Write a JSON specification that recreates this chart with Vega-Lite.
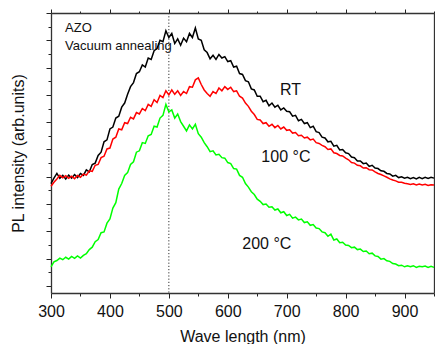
{
  "$schema": "https://vega.github.io/schema/vega-lite/v6.json",
  "autosize": "none",
  "width": 383,
  "height": 280,
  "padding": {"left": 51, "top": 13, "right": 1, "bottom": 51},
  "background": "white",
  "config": {
    "view": {"stroke": null},
    "font": "Liberation Sans",
    "axis": {
      "domainColor": "#333333",
      "domainWidth": 1.3,
      "tickColor": "#222222",
      "tickWidth": 1,
      "grid": false,
      "labelFont": "Liberation Sans",
      "labelFontSize": 16,
      "labelColor": "#111111",
      "titleFont": "Liberation Sans",
      "titleFontSize": 16,
      "titleFontWeight": "normal",
      "titleColor": "#111111"
    }
  },
  "data": {"values": [
    {"w":300,"a":3.75,"b":3.65,"c":0.70},
    {"w":305,"a":3.95,"b":3.80,"c":0.88},
    {"w":310,"a":4.12,"b":3.92,"c":0.93},
    {"w":315,"a":3.94,"b":4.05,"c":1.02},
    {"w":320,"a":4.05,"b":3.96,"c":0.96},
    {"w":325,"a":3.92,"b":4.04,"c":1.05},
    {"w":330,"a":4.06,"b":3.94,"c":0.98},
    {"w":335,"a":3.95,"b":4.02,"c":1.08},
    {"w":340,"a":4.08,"b":3.93,"c":1.01},
    {"w":345,"a":3.97,"b":4.05,"c":1.10},
    {"w":350,"a":4.12,"b":3.98,"c":1.02},
    {"w":355,"a":4.05,"b":4.10,"c":1.12},
    {"w":360,"a":4.25,"b":4.06,"c":1.18},
    {"w":365,"a":4.18,"b":4.22,"c":1.33},
    {"w":370,"a":4.45,"b":4.20,"c":1.42},
    {"w":375,"a":4.50,"b":4.42,"c":1.62},
    {"w":380,"a":4.78,"b":4.45,"c":1.70},
    {"w":385,"a":4.90,"b":4.70,"c":1.95},
    {"w":390,"a":5.28,"b":4.75,"c":1.98},
    {"w":395,"a":5.35,"b":5.02,"c":2.30},
    {"w":400,"a":5.75,"b":5.05,"c":2.45},
    {"w":405,"a":5.82,"b":5.38,"c":2.85},
    {"w":410,"a":6.15,"b":5.45,"c":3.05},
    {"w":415,"a":6.22,"b":5.75,"c":3.55},
    {"w":420,"a":6.55,"b":5.72,"c":3.75},
    {"w":425,"a":6.70,"b":5.98,"c":4.05},
    {"w":430,"a":7.02,"b":5.95,"c":4.15},
    {"w":435,"a":7.30,"b":6.18,"c":4.45},
    {"w":440,"a":7.45,"b":6.12,"c":4.55},
    {"w":445,"a":7.78,"b":6.35,"c":4.90},
    {"w":450,"a":7.85,"b":6.30,"c":4.95},
    {"w":455,"a":8.10,"b":6.50,"c":5.25},
    {"w":460,"a":8.02,"b":6.42,"c":5.22},
    {"w":465,"a":8.35,"b":6.65,"c":5.50},
    {"w":470,"a":8.30,"b":6.58,"c":5.55},
    {"w":475,"a":8.62,"b":6.82,"c":5.85},
    {"w":480,"a":8.70,"b":6.72,"c":5.82},
    {"w":485,"a":9.00,"b":6.98,"c":6.15},
    {"w":490,"a":8.95,"b":6.90,"c":6.25},
    {"w":495,"a":9.35,"b":7.15,"c":6.65},
    {"w":500,"a":9.10,"b":7.00,"c":6.38},
    {"w":505,"a":9.25,"b":7.18,"c":6.45},
    {"w":510,"a":8.88,"b":7.02,"c":6.15},
    {"w":515,"a":9.05,"b":7.15,"c":6.30},
    {"w":520,"a":8.82,"b":6.98,"c":6.02},
    {"w":525,"a":9.08,"b":7.12,"c":5.85},
    {"w":530,"a":8.95,"b":7.05,"c":5.68},
    {"w":535,"a":9.25,"b":7.30,"c":5.90},
    {"w":540,"a":9.10,"b":7.28,"c":5.75},
    {"w":545,"a":9.45,"b":7.55,"c":5.92},
    {"w":550,"a":9.05,"b":7.62,"c":5.58},
    {"w":555,"a":9.00,"b":7.38,"c":5.45},
    {"w":560,"a":8.65,"b":7.18,"c":5.25},
    {"w":565,"a":8.55,"b":7.05,"c":5.10},
    {"w":570,"a":8.32,"b":6.95,"c":4.92},
    {"w":575,"a":8.45,"b":7.12,"c":4.95},
    {"w":580,"a":8.30,"b":7.05,"c":4.80},
    {"w":585,"a":8.48,"b":7.25,"c":4.82},
    {"w":590,"a":8.35,"b":7.15,"c":4.70},
    {"w":595,"a":8.40,"b":7.30,"c":4.68},
    {"w":600,"a":8.22,"b":7.20,"c":4.52},
    {"w":605,"a":8.25,"b":7.28,"c":4.48},
    {"w":610,"a":8.02,"b":7.12,"c":4.30},
    {"w":615,"a":8.05,"b":7.15,"c":4.28},
    {"w":620,"a":7.78,"b":6.95,"c":4.05},
    {"w":625,"a":7.75,"b":6.88,"c":3.98},
    {"w":630,"a":7.52,"b":6.70,"c":3.75},
    {"w":635,"a":7.48,"b":6.58,"c":3.62},
    {"w":640,"a":7.22,"b":6.40,"c":3.45},
    {"w":645,"a":7.18,"b":6.28,"c":3.35},
    {"w":650,"a":6.95,"b":6.10,"c":3.18},
    {"w":655,"a":6.95,"b":6.08,"c":3.10},
    {"w":660,"a":6.75,"b":5.95,"c":2.98},
    {"w":665,"a":6.80,"b":5.98,"c":3.00},
    {"w":670,"a":6.60,"b":5.85,"c":2.88},
    {"w":675,"a":6.70,"b":5.92,"c":2.90},
    {"w":680,"a":6.55,"b":5.80,"c":2.78},
    {"w":685,"a":6.62,"b":5.88,"c":2.82},
    {"w":690,"a":6.45,"b":5.75,"c":2.68},
    {"w":695,"a":6.52,"b":5.82,"c":2.72},
    {"w":700,"a":6.40,"b":5.70,"c":2.58},
    {"w":705,"a":6.38,"b":5.72,"c":2.62},
    {"w":710,"a":6.22,"b":5.60,"c":2.48},
    {"w":715,"a":6.25,"b":5.62,"c":2.52},
    {"w":720,"a":6.05,"b":5.50,"c":2.42},
    {"w":725,"a":6.10,"b":5.52,"c":2.45},
    {"w":730,"a":5.95,"b":5.42,"c":2.32},
    {"w":735,"a":5.98,"b":5.45,"c":2.35},
    {"w":740,"a":5.80,"b":5.35,"c":2.22},
    {"w":745,"a":5.85,"b":5.38,"c":2.25},
    {"w":750,"a":5.65,"b":5.25,"c":2.12},
    {"w":755,"a":5.62,"b":5.22,"c":2.10},
    {"w":760,"a":5.45,"b":5.15,"c":1.98},
    {"w":765,"a":5.42,"b":5.10,"c":1.95},
    {"w":770,"a":5.28,"b":5.00,"c":1.82},
    {"w":775,"a":5.30,"b":5.02,"c":1.90},
    {"w":780,"a":5.12,"b":4.88,"c":1.68},
    {"w":785,"a":5.15,"b":4.85,"c":1.72},
    {"w":790,"a":4.98,"b":4.78,"c":1.58},
    {"w":795,"a":5.00,"b":4.76,"c":1.60},
    {"w":800,"a":4.88,"b":4.68,"c":1.50},
    {"w":805,"a":4.85,"b":4.62,"c":1.48},
    {"w":810,"a":4.72,"b":4.52,"c":1.40},
    {"w":815,"a":4.70,"b":4.50,"c":1.42},
    {"w":820,"a":4.58,"b":4.42,"c":1.33},
    {"w":825,"a":4.58,"b":4.40,"c":1.35},
    {"w":830,"a":4.48,"b":4.32,"c":1.26},
    {"w":835,"a":4.50,"b":4.33,"c":1.28},
    {"w":840,"a":4.38,"b":4.26,"c":1.18},
    {"w":845,"a":4.42,"b":4.25,"c":1.20},
    {"w":850,"a":4.32,"b":4.18,"c":1.10},
    {"w":855,"a":4.30,"b":4.12,"c":1.08},
    {"w":860,"a":4.22,"b":4.08,"c":0.98},
    {"w":865,"a":4.20,"b":4.03,"c":1.00},
    {"w":870,"a":4.12,"b":3.98,"c":0.92},
    {"w":875,"a":4.10,"b":3.92,"c":0.90},
    {"w":880,"a":4.02,"b":3.88,"c":0.82},
    {"w":885,"a":4.05,"b":3.85,"c":0.80},
    {"w":890,"a":3.97,"b":3.80,"c":0.74},
    {"w":895,"a":4.00,"b":3.80,"c":0.76},
    {"w":900,"a":3.95,"b":3.76,"c":0.70},
    {"w":905,"a":3.98,"b":3.74,"c":0.74},
    {"w":910,"a":3.93,"b":3.72,"c":0.70},
    {"w":915,"a":3.97,"b":3.74,"c":0.74},
    {"w":920,"a":3.92,"b":3.70,"c":0.68},
    {"w":925,"a":3.98,"b":3.73,"c":0.72},
    {"w":930,"a":3.93,"b":3.70,"c":0.70},
    {"w":935,"a":3.98,"b":3.72,"c":0.73},
    {"w":940,"a":3.94,"b":3.68,"c":0.68},
    {"w":945,"a":3.98,"b":3.71,"c":0.72},
    {"w":950,"a":3.95,"b":3.70,"c":0.68}
  ]},
  "resolve": {"axis": {"x": "independent", "y": "independent"}},
  "layer": [
    {
      "data": {"values": [{}]},
      "mark": {"type": "text", "align": "left", "baseline": "alphabetic", "fontSize": 13, "color": "#111111"},
      "encoding": {
        "x": {"datum": 323.8, "type": "quantitative", "scale": {"domain": [300, 950], "nice": false, "zero": false},
          "axis": {"orient": "top", "values": [300,350,400,450,500,550,600,650,700,750,800,850,900,950], "labels": false, "title": null, "domain": true,
            "tickSize": {"condition": {"test": "datum.value % 100 === 0", "value": 4}, "value": 2}}},
        "y": {"datum": 9.30, "type": "quantitative", "scale": {"domain": [-0.26, 10], "nice": false, "zero": false},
          "axis": {"orient": "right", "values": [0,0.5,1,1.5,2,2.5,3,3.5,4,4.5,5,5.5,6,6.5,7,7.5,8,8.5,9,9.5,10], "labels": false, "title": null, "domain": true,
            "tickSize": {"condition": {"test": "datum.value % 1 === 0", "value": 4}, "value": 2}}},
        "text": {"value": "AZO"}
      }
    },
    {
      "data": {"values": [{}]},
      "mark": {"type": "text", "align": "left", "baseline": "alphabetic", "fontSize": 13, "color": "#111111"},
      "encoding": {
        "x": {"datum": 323.8, "type": "quantitative", "axis": null},
        "y": {"datum": 8.65, "type": "quantitative", "axis": null},
        "text": {"value": "Vacuum annealing"}
      }
    },
    {
      "data": {"values": [{}]},
      "mark": {"type": "rule", "color": "#333333", "strokeDash": [1.2, 2], "strokeWidth": 1},
      "encoding": {"x": {"datum": 500, "type": "quantitative", "axis": null}}
    },
    {
      "transform": [{"fold": ["a", "b", "c"], "as": ["series", "value"]}],
      "mark": {"type": "line", "strokeWidth": 1.5},
      "encoding": {
        "x": {"field": "w", "type": "quantitative",
          "axis": {"orient": "bottom", "title": "Wave length (nm)", "values": [300,350,400,450,500,550,600,650,700,750,800,850,900,950],
            "labelExpr": "datum.value % 100 === 0 && datum.value < 950 ? datum.label : ''",
            "tickSize": {"condition": {"test": "datum.value % 100 === 0", "value": 5}, "value": 3},
            "labelPadding": 5, "titlePadding": 9, "labelFlush": false, "labelOverlap": false}},
        "y": {"field": "value", "type": "quantitative",
          "axis": {"orient": "left", "title": "PL intensity (arb.units)", "labels": false, "values": [0,0.5,1,1.5,2,2.5,3,3.5,4,4.5,5,5.5,6,6.5,7,7.5,8,8.5,9,9.5,10],
            "tickSize": {"condition": {"test": "datum.value % 1 === 0", "value": 5}, "value": 3},
            "titlePadding": 19}},
        "color": {"field": "series", "type": "nominal", "legend": null,
          "scale": {"domain": ["a", "b", "c"], "range": ["#000000", "#ff0000", "#00ff00"]}},
        "order": {"field": "w", "type": "quantitative"}
      }
    },
    {
      "data": {"values": [{}]},
      "mark": {"type": "text", "align": "left", "baseline": "alphabetic", "fontSize": 16, "color": "#111111"},
      "encoding": {
        "x": {"datum": 688.6, "type": "quantitative", "axis": null},
        "y": {"datum": 7.0, "type": "quantitative", "axis": null},
        "text": {"value": "RT"}
      }
    },
    {
      "data": {"values": [{}]},
      "mark": {"type": "text", "align": "left", "baseline": "alphabetic", "fontSize": 16, "color": "#111111"},
      "encoding": {
        "x": {"datum": 657, "type": "quantitative", "axis": null},
        "y": {"datum": 4.55, "type": "quantitative", "axis": null},
        "text": {"value": "100 °C"}
      }
    },
    {
      "data": {"values": [{}]},
      "mark": {"type": "text", "align": "left", "baseline": "alphabetic", "fontSize": 16, "color": "#111111"},
      "encoding": {
        "x": {"datum": 624.7, "type": "quantitative", "axis": null},
        "y": {"datum": 1.35, "type": "quantitative", "axis": null},
        "text": {"value": "200 °C"}
      }
    }
  ]
}
